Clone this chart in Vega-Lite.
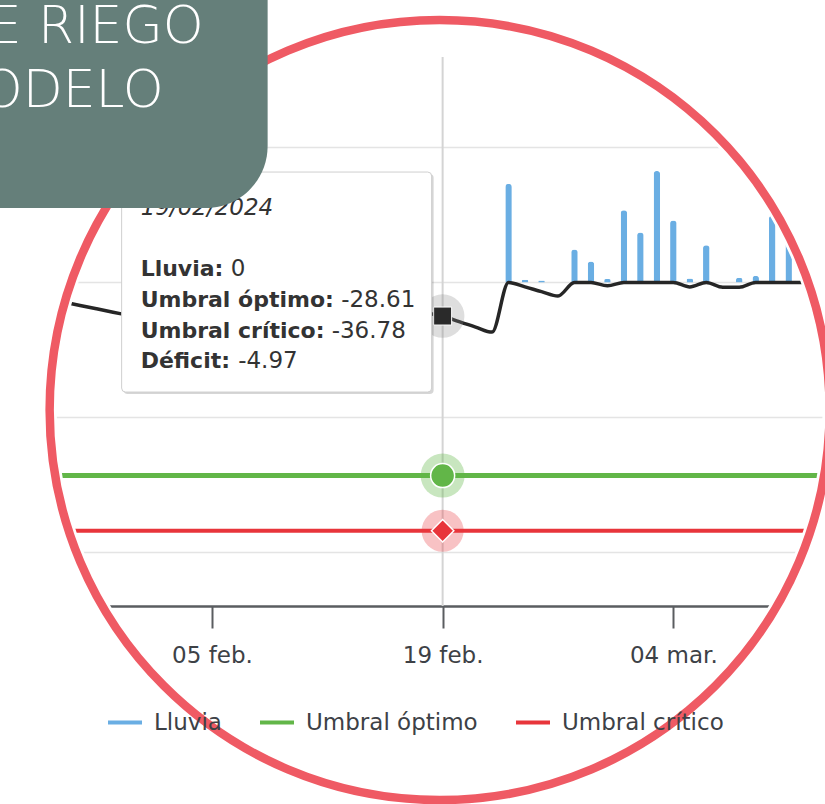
{
  "$schema": "https://vega.github.io/schema/vega-lite/v6.json",
  "width": 825,
  "height": 549,
  "autosize": {"type": "none"},
  "padding": {"left": 0, "top": 57, "right": 0, "bottom": 198},
  "background": "#ffffff",
  "config": {"view": {"stroke": null}, "font": "DejaVu Sans"},
  "data": {"values": [
    {"fecha": "2024-01-23", "lluvia": 0, "deficit": -0.9, "optimo": -28.61, "critico": -36.78},
    {"fecha": "2024-01-24", "lluvia": 0, "deficit": -1.4, "optimo": -28.61, "critico": -36.78},
    {"fecha": "2024-01-25", "lluvia": 0, "deficit": -1.9, "optimo": -28.61, "critico": -36.78},
    {"fecha": "2024-01-26", "lluvia": 0, "deficit": -2.4, "optimo": -28.61, "critico": -36.78},
    {"fecha": "2024-01-27", "lluvia": 0, "deficit": -2.9, "optimo": -28.61, "critico": -36.78},
    {"fecha": "2024-01-28", "lluvia": 0, "deficit": -3.4, "optimo": -28.61, "critico": -36.78},
    {"fecha": "2024-01-29", "lluvia": 0, "deficit": -3.9, "optimo": -28.61, "critico": -36.78},
    {"fecha": "2024-01-30", "lluvia": 0, "deficit": -4.4, "optimo": -28.61, "critico": -36.78},
    {"fecha": "2024-01-31", "lluvia": 0, "deficit": -4.9, "optimo": -28.61, "critico": -36.78},
    {"fecha": "2024-02-01", "lluvia": 0, "deficit": -5.4, "optimo": -28.61, "critico": -36.78},
    {"fecha": "2024-02-02", "lluvia": 0, "deficit": -5.9, "optimo": -28.61, "critico": -36.78},
    {"fecha": "2024-02-03", "lluvia": 0, "deficit": -6.4, "optimo": -28.61, "critico": -36.78},
    {"fecha": "2024-02-04", "lluvia": 0, "deficit": -6.9, "optimo": -28.61, "critico": -36.78},
    {"fecha": "2024-02-05", "lluvia": 0, "deficit": -7.4, "optimo": -28.61, "critico": -36.78},
    {"fecha": "2024-02-06", "lluvia": 8.2, "deficit": 0, "optimo": -28.61, "critico": -36.78},
    {"fecha": "2024-02-07", "lluvia": 0, "deficit": -0.5, "optimo": -28.61, "critico": -36.78},
    {"fecha": "2024-02-08", "lluvia": 0, "deficit": -1.0, "optimo": -28.61, "critico": -36.78},
    {"fecha": "2024-02-09", "lluvia": 5.1, "deficit": 0, "optimo": -28.61, "critico": -36.78},
    {"fecha": "2024-02-10", "lluvia": 0, "deficit": -0.5, "optimo": -28.61, "critico": -36.78},
    {"fecha": "2024-02-11", "lluvia": 0, "deficit": -1.0, "optimo": -28.61, "critico": -36.78},
    {"fecha": "2024-02-12", "lluvia": 0, "deficit": -1.5, "optimo": -28.61, "critico": -36.78},
    {"fecha": "2024-02-13", "lluvia": 0, "deficit": -2.0, "optimo": -28.61, "critico": -36.78},
    {"fecha": "2024-02-14", "lluvia": 0, "deficit": -2.5, "optimo": -28.61, "critico": -36.78},
    {"fecha": "2024-02-15", "lluvia": 0, "deficit": -3.0, "optimo": -28.61, "critico": -36.78},
    {"fecha": "2024-02-16", "lluvia": 0, "deficit": -3.5, "optimo": -28.61, "critico": -36.78},
    {"fecha": "2024-02-17", "lluvia": 0, "deficit": -4.0, "optimo": -28.61, "critico": -36.78},
    {"fecha": "2024-02-18", "lluvia": 0, "deficit": -4.5, "optimo": -28.61, "critico": -36.78},
    {"fecha": "2024-02-19", "lluvia": 0, "deficit": -4.97, "optimo": -28.61, "critico": -36.78},
    {"fecha": "2024-02-20", "lluvia": 0, "deficit": -5.8, "optimo": -28.61, "critico": -36.78},
    {"fecha": "2024-02-21", "lluvia": 0, "deficit": -6.6, "optimo": -28.61, "critico": -36.78},
    {"fecha": "2024-02-22", "lluvia": 0, "deficit": -7.35, "optimo": -28.61, "critico": -36.78},
    {"fecha": "2024-02-23", "lluvia": 14.6, "deficit": 0, "optimo": -28.61, "critico": -36.78},
    {"fecha": "2024-02-24", "lluvia": 0.4, "deficit": -0.65, "optimo": -28.61, "critico": -36.78},
    {"fecha": "2024-02-25", "lluvia": 0.3, "deficit": -1.35, "optimo": -28.61, "critico": -36.78},
    {"fecha": "2024-02-26", "lluvia": 0, "deficit": -2.0, "optimo": -28.61, "critico": -36.78},
    {"fecha": "2024-02-27", "lluvia": 4.9, "deficit": 0, "optimo": -28.61, "critico": -36.78},
    {"fecha": "2024-02-28", "lluvia": 3.1, "deficit": 0, "optimo": -28.61, "critico": -36.78},
    {"fecha": "2024-02-29", "lluvia": 0.5, "deficit": -0.5, "optimo": -28.61, "critico": -36.78},
    {"fecha": "2024-03-01", "lluvia": 10.7, "deficit": 0, "optimo": -28.61, "critico": -36.78},
    {"fecha": "2024-03-02", "lluvia": 7.4, "deficit": 0, "optimo": -28.61, "critico": -36.78},
    {"fecha": "2024-03-03", "lluvia": 16.5, "deficit": 0, "optimo": -28.61, "critico": -36.78},
    {"fecha": "2024-03-04", "lluvia": 9.2, "deficit": 0, "optimo": -28.61, "critico": -36.78},
    {"fecha": "2024-03-05", "lluvia": 0.6, "deficit": -0.65, "optimo": -28.61, "critico": -36.78},
    {"fecha": "2024-03-06", "lluvia": 5.5, "deficit": 0, "optimo": -28.61, "critico": -36.78},
    {"fecha": "2024-03-07", "lluvia": 0, "deficit": -0.7, "optimo": -28.61, "critico": -36.78},
    {"fecha": "2024-03-08", "lluvia": 0.7, "deficit": -0.7, "optimo": -28.61, "critico": -36.78},
    {"fecha": "2024-03-09", "lluvia": 1.0, "deficit": 0, "optimo": -28.61, "critico": -36.78},
    {"fecha": "2024-03-10", "lluvia": 9.9, "deficit": 0, "optimo": -28.61, "critico": -36.78},
    {"fecha": "2024-03-11", "lluvia": 8.0, "deficit": 0, "optimo": -28.61, "critico": -36.78},
    {"fecha": "2024-03-12", "lluvia": 3.0, "deficit": 0, "optimo": -28.61, "critico": -36.78},
    {"fecha": "2024-03-13", "lluvia": 0, "deficit": 0, "optimo": -28.61, "critico": -36.78}
  ]},
  "encoding": {
    "x": {
      "field": "fecha", "type": "temporal", "title": null,
      "scale": {"type": "utc", "domain": [
        {"year": 2024, "month": 1, "date": 23, "hours": 10, "minutes": 35, "utc": true},
        {"year": 2024, "month": 3, "date": 12, "hours": 21, "minutes": 38, "utc": true}
      ]},
      "axis": {
        "title": null,
        "values": [
          {"year": 2024, "month": 2, "date": 5, "utc": true},
          {"year": 2024, "month": 2, "date": 19, "utc": true},
          {"year": 2024, "month": 3, "date": 4, "utc": true}
        ],
        "labelExpr": "utcFormat(datum.value, '%d') + ' ' + ['ene.', 'feb.', 'mar.', 'abr.'][utcmonth(datum.value)]",
        "grid": false,
        "domainColor": "#5a5d60", "domainWidth": 2.5,
        "tickColor": "#5a5d60", "tickWidth": 2, "tickSize": 22,
        "labelPadding": 16, "labelFontSize": 23, "labelFont": "DejaVu Sans",
        "labelColor": "#3d4146", "labelFlush": false, "labelOverlap": false
      }
    }
  },
  "layer": [
    {
      "transform": [{"filter": "utcFormat(toDate(datum.fecha), '%Y-%m-%d') === '2024-02-19'"}],
      "mark": {"type": "rule", "color": "#d4d4d4", "strokeWidth": 2},
      "encoding": {}
    },
    {
      "transform": [{"filter": "datum.lluvia > 0"}],
      "mark": {"type": "bar", "width": 6.5, "cornerRadiusEnd": 3},
      "encoding": {
        "y": {"field": "lluvia", "type": "quantitative", "title": null,
          "scale": {"domain": [-47.926, 33.407], "nice": false, "zero": false},
          "axis": {"title": null, "values": [20, 0, -20, -40], "grid": true, "gridColor": "#e4e4e4", "gridWidth": 1.5, "labels": false, "ticks": false, "domain": false}},
        "color": {"datum": "Lluvia",
          "scale": {"domain": ["Lluvia", "Umbral óptimo", "Umbral crítico", "Déficit"], "range": ["#6aaee3", "#62b648", "#e8353b", "#262626"]},
          "legend": {
            "values": ["Lluvia", "Umbral óptimo", "Umbral crítico"],
            "orient": "none", "legendX": 106, "legendY": 646.5, "direction": "horizontal",
            "title": null, "padding": 0, "offset": 0,
            "symbolType": "stroke", "symbolSize": 1156, "symbolStrokeWidth": 4,
            "labelFontSize": 23, "labelFont": "DejaVu Sans", "labelColor": "#3d4146",
            "labelOffset": 10, "columnPadding": 30, "labelLimit": 400,
            "encode": {"symbols": {"update": {"stroke": {"scale": "color", "field": "value"}, "fill": {"value": "transparent"}, "strokeWidth": {"value": 4}}}}
          }}
      }
    },
    {
      "mark": {"type": "line", "strokeWidth": 5},
      "encoding": {
        "y": {"field": "optimo", "type": "quantitative", "title": null,
          "scale": {"domain": [-47.926, 33.407], "nice": false, "zero": false}},
        "color": {"datum": "Umbral óptimo",
          "scale": {"domain": ["Lluvia", "Umbral óptimo", "Umbral crítico", "Déficit"], "range": ["#6aaee3", "#62b648", "#e8353b", "#262626"]}}
      }
    },
    {
      "mark": {"type": "line", "strokeWidth": 4},
      "encoding": {
        "y": {"field": "critico", "type": "quantitative", "title": null,
          "scale": {"domain": [-47.926, 33.407], "nice": false, "zero": false}},
        "color": {"datum": "Umbral crítico",
          "scale": {"domain": ["Lluvia", "Umbral óptimo", "Umbral crítico", "Déficit"], "range": ["#6aaee3", "#62b648", "#e8353b", "#262626"]}}
      }
    },
    {
      "mark": {"type": "line", "strokeWidth": 3.5, "interpolate": "monotone", "strokeJoin": "round"},
      "encoding": {
        "y": {"field": "deficit", "type": "quantitative", "title": null,
          "scale": {"domain": [-47.926, 33.407], "nice": false, "zero": false}},
        "color": {"datum": "Déficit",
          "scale": {"domain": ["Lluvia", "Umbral óptimo", "Umbral crítico", "Déficit"], "range": ["#6aaee3", "#62b648", "#e8353b", "#262626"]}}
      }
    },
    {
      "transform": [{"filter": "utcFormat(toDate(datum.fecha), '%Y-%m-%d') === '2024-02-19'"}],
      "layer": [
        {
          "mark": {"type": "point", "shape": "circle", "filled": true, "size": 1900, "color": "#8a8a8a", "opacity": 0.28},
          "encoding": {"y": {"field": "deficit", "type": "quantitative", "title": null, "scale": {"domain": [-47.926, 33.407], "nice": false, "zero": false}}}
        },
        {
          "mark": {"type": "point", "shape": "square", "filled": true, "size": 324, "color": "#2a2a2a", "stroke": "#ffffff", "strokeWidth": 1, "opacity": 1},
          "encoding": {"y": {"field": "deficit", "type": "quantitative", "title": null, "scale": {"domain": [-47.926, 33.407], "nice": false, "zero": false}}}
        },
        {
          "mark": {"type": "point", "shape": "circle", "filled": true, "size": 1936, "color": "#62b648", "opacity": 0.35},
          "encoding": {"y": {"field": "optimo", "type": "quantitative", "title": null, "scale": {"domain": [-47.926, 33.407], "nice": false, "zero": false}}}
        },
        {
          "mark": {"type": "point", "shape": "circle", "filled": true, "size": 576, "color": "#62b648", "stroke": "#ffffff", "strokeWidth": 1.5, "opacity": 1},
          "encoding": {"y": {"field": "optimo", "type": "quantitative", "title": null, "scale": {"domain": [-47.926, 33.407], "nice": false, "zero": false}}}
        },
        {
          "mark": {"type": "point", "shape": "circle", "filled": true, "size": 1764, "color": "#e8353b", "opacity": 0.3},
          "encoding": {"y": {"field": "critico", "type": "quantitative", "title": null, "scale": {"domain": [-47.926, 33.407], "nice": false, "zero": false}}}
        },
        {
          "mark": {"type": "point", "shape": "diamond", "filled": true, "size": 500, "color": "#e8353b", "stroke": "#ffffff", "strokeWidth": 1.5, "opacity": 1},
          "encoding": {"y": {"field": "critico", "type": "quantitative", "title": null, "scale": {"domain": [-47.926, 33.407], "nice": false, "zero": false}}}
        },
        {
          "mark": {"type": "point", "shape": "M -315 -142 L -13 -142 Q -9 -142 -9 -138 L -9 74 Q -9 78 -13 78 L -315 78 Q -319 78 -319 74 L -319 -138 Q -319 -142 -315 -142 Z", "size": 4, "filled": true, "color": "#000000", "opacity": 0.16},
          "encoding": {"y": {"field": "deficit", "type": "quantitative", "title": null, "scale": {"domain": [-47.926, 33.407], "nice": false, "zero": false}}}
        },
        {
          "mark": {"type": "point", "shape": "M -317 -144 L -15 -144 Q -11 -144 -11 -140 L -11 72 Q -11 76 -15 76 L -317 76 Q -321 76 -321 72 L -321 -140 Q -321 -144 -317 -144 Z", "size": 4, "filled": true, "color": "#ffffff", "stroke": "#cfcfcf", "strokeWidth": 1, "opacity": 1},
          "encoding": {"y": {"field": "deficit", "type": "quantitative", "title": null, "scale": {"domain": [-47.926, 33.407], "nice": false, "zero": false}}}
        },
        {
          "mark": {"type": "text", "text": "19/02/2024", "font": "DejaVu Sans", "fontStyle": "italic", "fontSize": 23, "color": "#333333", "align": "left", "baseline": "alphabetic", "dx": -302, "dy": -101},
          "encoding": {"y": {"field": "deficit", "type": "quantitative", "title": null, "scale": {"domain": [-47.926, 33.407], "nice": false, "zero": false}}}
        },
        {
          "mark": {"type": "text", "text": "Lluvia:", "font": "DejaVu Sans", "fontWeight": "bold", "fontSize": 22, "color": "#333333", "align": "left", "baseline": "alphabetic", "dx": -302, "dy": -40},
          "encoding": {"y": {"field": "deficit", "type": "quantitative", "title": null, "scale": {"domain": [-47.926, 33.407], "nice": false, "zero": false}}}
        },
        {
          "mark": {"type": "text", "font": "DejaVu Sans", "fontSize": 23, "color": "#333333", "align": "left", "baseline": "alphabetic", "dx": -212, "dy": -40},
          "encoding": {"y": {"field": "deficit", "type": "quantitative", "title": null, "scale": {"domain": [-47.926, 33.407], "nice": false, "zero": false}},
            "text": {"field": "lluvia", "type": "nominal"}}
        },
        {
          "mark": {"type": "text", "text": "Umbral óptimo:", "font": "DejaVu Sans", "fontWeight": "bold", "fontSize": 22, "color": "#333333", "align": "left", "baseline": "alphabetic", "dx": -302, "dy": -9},
          "encoding": {"y": {"field": "deficit", "type": "quantitative", "title": null, "scale": {"domain": [-47.926, 33.407], "nice": false, "zero": false}}}
        },
        {
          "mark": {"type": "text", "font": "DejaVu Sans", "fontSize": 23, "color": "#333333", "align": "left", "baseline": "alphabetic", "dx": -101.5, "dy": -9},
          "encoding": {"y": {"field": "deficit", "type": "quantitative", "title": null, "scale": {"domain": [-47.926, 33.407], "nice": false, "zero": false}},
            "text": {"field": "optimo", "type": "nominal"}}
        },
        {
          "mark": {"type": "text", "text": "Umbral crítico:", "font": "DejaVu Sans", "fontWeight": "bold", "fontSize": 22, "color": "#333333", "align": "left", "baseline": "alphabetic", "dx": -302, "dy": 21.5},
          "encoding": {"y": {"field": "deficit", "type": "quantitative", "title": null, "scale": {"domain": [-47.926, 33.407], "nice": false, "zero": false}}}
        },
        {
          "mark": {"type": "text", "font": "DejaVu Sans", "fontSize": 23, "color": "#333333", "align": "left", "baseline": "alphabetic", "dx": -111, "dy": 21.5},
          "encoding": {"y": {"field": "deficit", "type": "quantitative", "title": null, "scale": {"domain": [-47.926, 33.407], "nice": false, "zero": false}},
            "text": {"field": "critico", "type": "nominal"}}
        },
        {
          "mark": {"type": "text", "text": "Déficit:", "font": "DejaVu Sans", "fontWeight": "bold", "fontSize": 22, "color": "#333333", "align": "left", "baseline": "alphabetic", "dx": -302, "dy": 52},
          "encoding": {"y": {"field": "deficit", "type": "quantitative", "title": null, "scale": {"domain": [-47.926, 33.407], "nice": false, "zero": false}}}
        },
        {
          "mark": {"type": "text", "font": "DejaVu Sans", "fontSize": 23, "color": "#333333", "align": "left", "baseline": "alphabetic", "dx": -204.5, "dy": 52},
          "encoding": {"y": {"field": "deficit", "type": "quantitative", "title": null, "scale": {"domain": [-47.926, 33.407], "nice": false, "zero": false}},
            "text": {"field": "deficit", "type": "nominal"}}
        },
        {
          "mark": {"type": "point", "shape": "M -506 94 A 503 503 0 1 1 500 94 A 503 503 0 1 1 -506 94 Z", "size": 4, "filled": false, "color": "#ffffff", "strokeWidth": 240, "opacity": 1},
          "encoding": {"y": {"field": "deficit", "type": "quantitative", "title": null, "scale": {"domain": [-47.926, 33.407], "nice": false, "zero": false}}}
        },
        {
          "mark": {"type": "point", "shape": "M -393 94 A 390 390 0 1 1 387 94 A 390 390 0 1 1 -393 94 Z", "size": 4, "filled": false, "color": "#ef5a64", "strokeWidth": 8.5, "opacity": 1},
          "encoding": {"y": {"field": "deficit", "type": "quantitative", "title": null, "scale": {"domain": [-47.926, 33.407], "nice": false, "zero": false}}}
        },
        {
          "mark": {"type": "point", "shape": "M -460 -330 L -175 -330 L -175 -170 A 62 62 0 0 1 -237 -108 L -460 -108 Z", "size": 4, "filled": true, "color": "#657f7a", "opacity": 1},
          "encoding": {"y": {"field": "deficit", "type": "quantitative", "title": null, "scale": {"domain": [-47.926, 33.407], "nice": false, "zero": false}}}
        },
        {
          "mark": {"type": "text", "text": "E RIEGO", "font": "DejaVu Sans", "fontWeight": 200, "fontSize": 52, "color": "#ffffff", "align": "right", "baseline": "alphabetic", "dx": -239, "dy": -272.75},
          "encoding": {"y": {"field": "deficit", "type": "quantitative", "title": null, "scale": {"domain": [-47.926, 33.407], "nice": false, "zero": false}}}
        },
        {
          "mark": {"type": "text", "text": "ODELO", "font": "DejaVu Sans", "fontWeight": 200, "fontSize": 52, "color": "#ffffff", "align": "right", "baseline": "alphabetic", "dx": -279, "dy": -209.35},
          "encoding": {"y": {"field": "deficit", "type": "quantitative", "title": null, "scale": {"domain": [-47.926, 33.407], "nice": false, "zero": false}}}
        }
      ]
    }
  ]
}
